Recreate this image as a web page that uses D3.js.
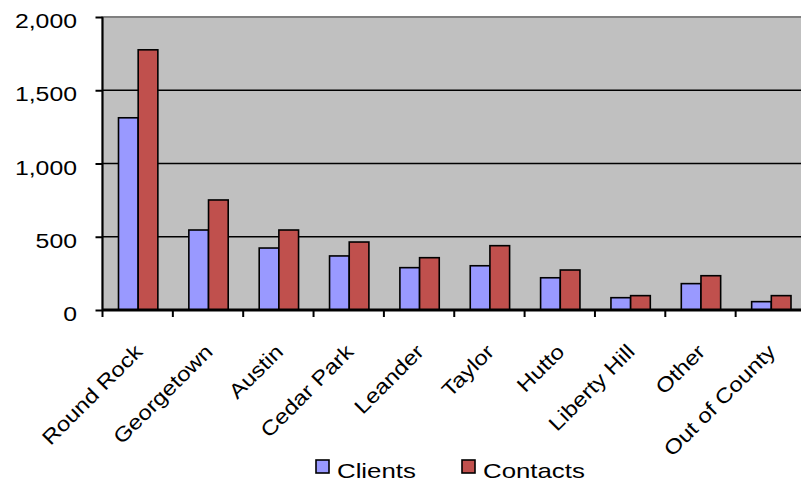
<!DOCTYPE html>
<html>
<head>
<meta charset="utf-8">
<script src="https://cdn.jsdelivr.net/npm/d3@7"></script>
<style>
body{margin:0;background:#fff;overflow:hidden}
text{font-family:"Liberation Sans",Arial,sans-serif;fill:#000}
</style>
</head>
<body>
<svg width="801" height="482"></svg>
<script>
const cities=["Round Rock","Georgetown","Austin","Cedar Park","Leander","Taylor","Hutto","Liberty Hill","Other","Out of County"];
const clients=[1312,546,423,369,289,302,220,84,180,57];
const contacts=[1776,751,546,464,357,439,273,98,234,98];
const seriesNames=["Clients","Contacts"];
const seriesColors=["#9999FF","#C0504D"];
const yTicks=[0,500,1000,1500,2000];

const svg=d3.select("svg");
const pLeft=102.5, pRight=806, pTop=17, pBottom=310;
const fs="20.5px";

const x=d3.scaleBand().domain(cities).range([pLeft,pRight]);
const inner=d3.scaleBand().domain(seriesNames).range([16,x.bandwidth()-15]);
const y=d3.scaleLinear().domain([0,2000]).range([pBottom,pTop]);

// plot background
svg.append("rect")
   .attr("x",pLeft).attr("y",pTop)
   .attr("width",pRight-pLeft).attr("height",pBottom-pTop)
   .attr("fill","#C0C0C0")
   .attr("stroke","#808080").attr("stroke-width",2);

// gridlines
svg.append("g").selectAll("line")
   .data(yTicks.filter(d=>d>0&&d<2000))
   .join("line")
   .attr("x1",pLeft).attr("x2",pRight)
   .attr("y1",d=>y(d)).attr("y2",d=>y(d))
   .attr("stroke","#000").attr("stroke-width",1.5);

// bars
const rows=cities.map((c,i)=>({city:c,values:[clients[i],contacts[i]]}));
svg.append("g").selectAll("g")
   .data(rows)
   .join("g")
   .attr("transform",d=>"translate("+x(d.city)+",0)")
   .selectAll("rect")
   .data(d=>d.values.map((v,j)=>({name:seriesNames[j],v:v,c:seriesColors[j]})))
   .join("rect")
   .attr("x",d=>inner(d.name))
   .attr("y",d=>y(d.v))
   .attr("width",inner.bandwidth())
   .attr("height",d=>pBottom-y(d.v))
   .attr("fill",d=>d.c)
   .attr("stroke","#000").attr("stroke-width",1.6);

// y axis
const yAxis=svg.append("g")
   .attr("transform","translate("+pLeft+",0)")
   .call(d3.axisLeft(y).tickValues(yTicks).tickFormat(d3.format(",")).tickSize(7));
yAxis.select(".domain").attr("stroke","#000").attr("stroke-width",2).attr("d","M0,"+pTop+"V"+pBottom);
yAxis.selectAll(".tick line").attr("stroke","#000").attr("stroke-width",2);
yAxis.selectAll("text")
   .attr("x",0)
   .attr("transform","translate(-25.5,0) scale(1.21,1)")
   .attr("font-size",fs).attr("fill","#000").attr("dy","0.52em");

// x axis
const xAxis=svg.append("g")
   .attr("transform","translate(0,"+pBottom+")");
xAxis.append("line")
   .attr("x1",pLeft).attr("x2",pRight)
   .attr("stroke","#000").attr("stroke-width",3);
xAxis.selectAll(".tk")
   .data(cities)
   .join("line")
   .attr("class","tk")
   .attr("x1",d=>x(d)).attr("x2",d=>x(d))
   .attr("y1",0).attr("y2",7)
   .attr("stroke","#000").attr("stroke-width",2);
xAxis.selectAll(".lbl")
   .data(cities)
   .join("text")
   .attr("class","lbl")
   .attr("transform",d=>"translate("+(x(d)+x.bandwidth()/2+6)+",43) rotate(-45) scale(1.17,1)")
   .attr("text-anchor","end")
   .attr("font-size",fs)
   .text(d=>d);

// legend
const legend=svg.append("g").attr("transform","translate(316,460)");
const lx=[0,146];
seriesNames.forEach((s,i)=>{
  legend.append("rect")
    .attr("x",lx[i]).attr("y",0)
    .attr("width",13).attr("height",13)
    .attr("fill",seriesColors[i])
    .attr("stroke","#000").attr("stroke-width",1.6);
  legend.append("text")
    .attr("transform","translate("+(lx[i]+21)+",18) scale(1.26,1)")
    .attr("font-size",fs)
    .text(s);
});
</script>
</body>
</html>
